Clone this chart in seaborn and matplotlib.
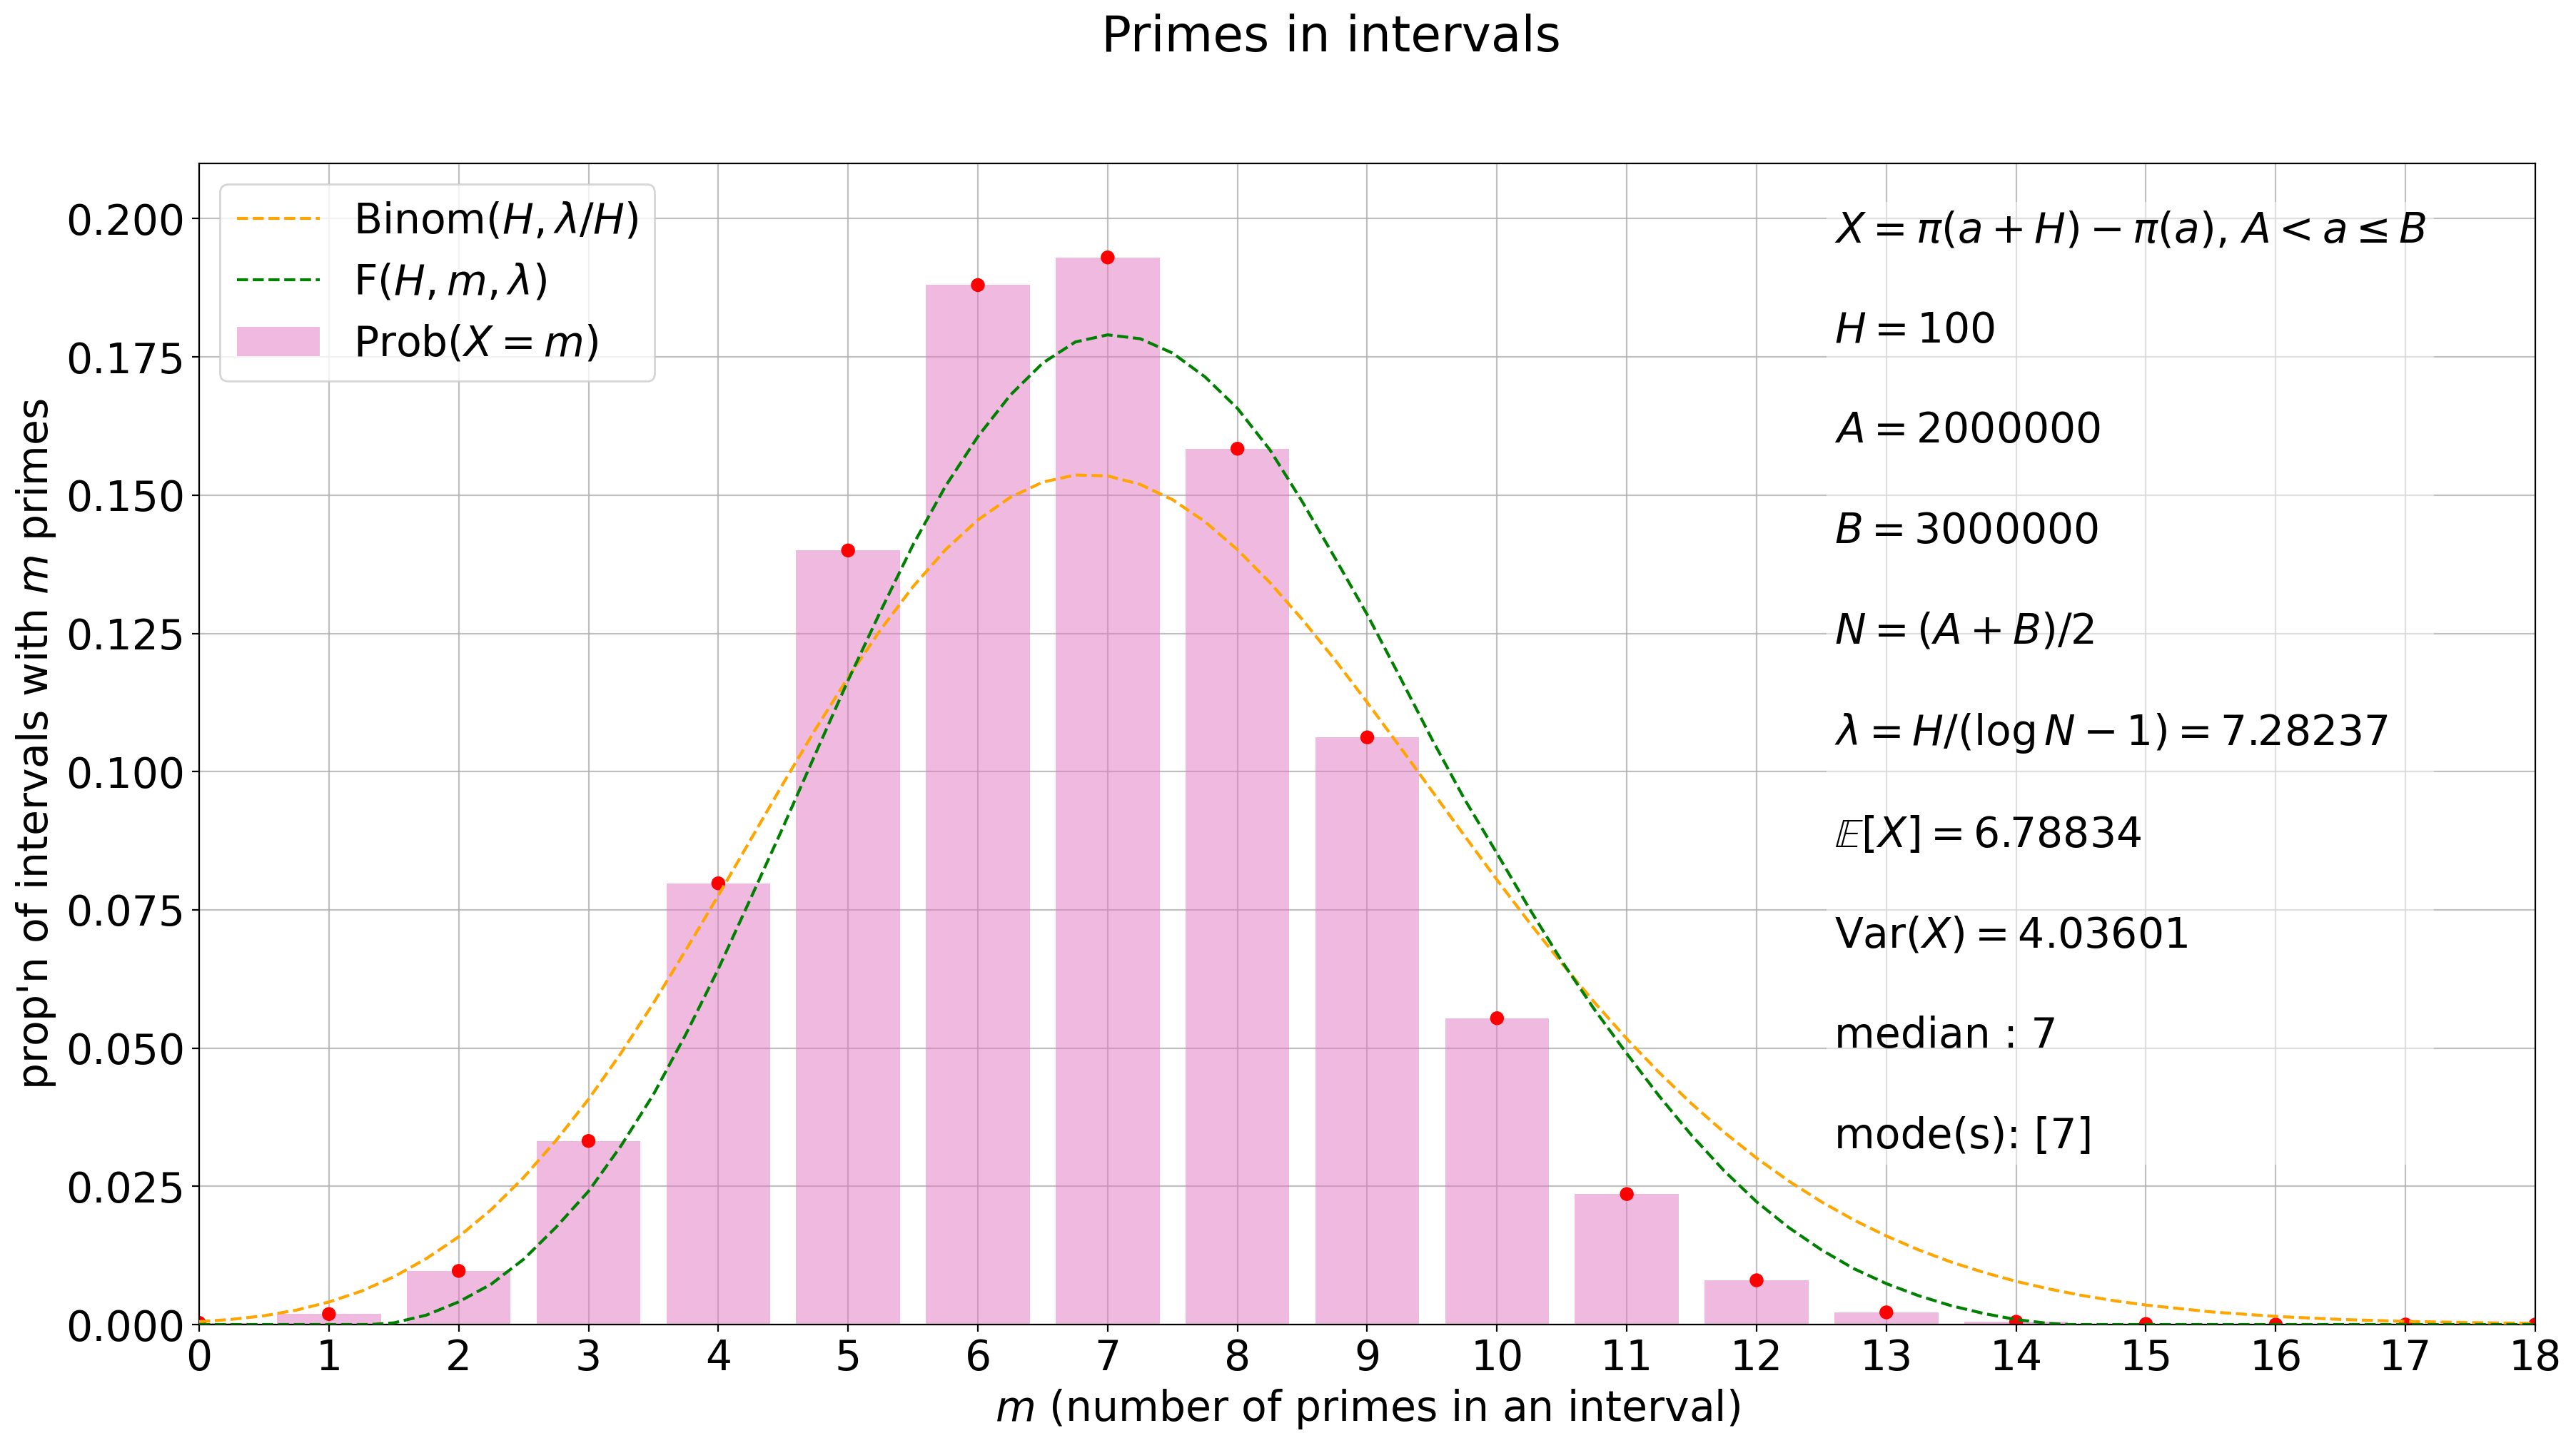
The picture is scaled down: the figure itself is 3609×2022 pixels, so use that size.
import matplotlib
matplotlib.use("Agg")
import matplotlib.pyplot as plt
import seaborn as sns
import pandas as pd

# ---------------- data ----------------
m_values = [0, 1, 2, 3, 4, 5, 6, 7, 8, 9, 10, 11, 12, 13, 14, 15, 16, 17, 18]
prob_values = [0.0003, 0.0019, 0.0097, 0.0332, 0.0798, 0.1400, 0.1880, 0.1930,
               0.1584, 0.1062, 0.0554, 0.0236, 0.0080, 0.0022, 0.0005, 0.0001,
               0.0, 0.0, 0.0]

binom_x = [0, 0.25, 0.5, 0.75, 1, 1.25, 1.5, 1.75, 2, 2.25, 2.5, 2.75, 3, 3.25,
           3.5, 3.75, 4, 4.25, 4.5, 4.75, 5, 5.25, 5.5, 5.75, 6, 6.25, 6.5, 6.75,
           7, 7.25, 7.5, 7.75, 8, 8.25, 8.5, 8.75, 9, 9.25, 9.5, 9.75, 10, 10.25,
           10.5, 10.75, 11, 11.25, 11.5, 11.75, 12, 12.25, 12.5, 12.75, 13, 13.25,
           13.5, 13.75, 14, 14.25, 14.5, 14.75, 15, 15.5, 16, 16.5, 17, 17.5, 18]
binom_y = [0.00052, 0.00093, 0.00159, 0.00261, 0.00408, 0.00604, 0.00863, 0.01192,
           0.01588, 0.02078, 0.02659, 0.03329, 0.04074, 0.04907, 0.05812, 0.06773,
           0.07759, 0.08773, 0.09786, 0.10772, 0.11701, 0.12565, 0.13344, 0.14013,
           0.14552, 0.14961, 0.15236, 0.15365, 0.15348, 0.15195, 0.14918, 0.14520,
           0.14014, 0.13419, 0.12751, 0.12025, 0.11252, 0.10454, 0.09646, 0.08838,
           0.08042, 0.07269, 0.06530, 0.05828, 0.05168, 0.04555, 0.03992, 0.03477,
           0.03011, 0.02592, 0.02219, 0.01890, 0.01601, 0.01349, 0.01129, 0.00943,
           0.00781, 0.00645, 0.00529, 0.00433, 0.00352, 0.00229, 0.00147, 0.00092,
           0.00057, 0.00035, 0.00021]

f_x = [0, 1.32, 1.5, 1.75, 2.0, 2.25, 2.5, 2.75, 3.0, 3.25, 3.5, 3.75, 4.0, 4.25,
       4.5, 4.75, 5.0, 5.25, 5.5, 5.75, 6.0, 6.25, 6.5, 6.75, 7.0, 7.25, 7.5,
       7.75, 8.0, 8.25, 8.5, 8.75, 9.0, 9.25, 9.5, 9.75, 10.0, 10.25, 10.5,
       10.75, 11.0, 11.25, 11.5, 11.75, 12.0, 12.25, 12.5, 12.75, 13.0, 13.25,
       13.5, 13.75, 14.0, 14.25, 14.4, 18]
f_y = [0, 0, 0.0003, 0.0017, 0.0041, 0.0073, 0.0118, 0.0176, 0.0241, 0.0323,
       0.0416, 0.0525, 0.0643, 0.0771, 0.0900, 0.1033, 0.1165, 0.1290, 0.1410,
       0.1516, 0.1606, 0.1681, 0.1739, 0.1777, 0.1790, 0.1783, 0.1757, 0.1714,
       0.1657, 0.1582, 0.1488, 0.1387, 0.1284, 0.1172, 0.1058, 0.0950, 0.0852,
       0.0752, 0.0657, 0.0570, 0.0490, 0.0413, 0.0342, 0.0278, 0.0222, 0.0175,
       0.0135, 0.0101, 0.0074, 0.0052, 0.0034, 0.0020, 0.0009, 0.0002, 0.0, 0.0]

H = 100
A = 2000000
B = 3000000
lam = 7.28237
mean_x = 6.78834
var_x = 4.03601
median_x = 7
modes = [7]

title = "Primes in intervals"
xlabel = r"$m$ (number of primes in an interval)"
ylabel = r"prop'n of intervals with $m$ primes"
legend_labels = [r"Binom$(H,\lambda/H)$", r"F$(H,m,\lambda)$", r"Prob$(X=m)$"]
info_lines = [
    r"$X=\pi(a+H)-\pi(a)$, $A<a\leq B$",
    r"$H=%d$" % H,
    r"$A=%d$" % A,
    r"$B=%d$" % B,
    r"$N=(A+B)/2$",
    r"$\lambda=H/(\log N-1)=%.5f$" % lam,
    r"$\mathbb{E}[X]=%.5f$" % mean_x,
    r"Var$(X)=%.5f$" % var_x,
    "median : %d" % median_x,
    "mode(s): %s" % str(modes),
]

# ---------------- plotting ----------------
plt.rcParams["font.size"] = 21
plt.rcParams["font.family"] = ["DejaVu Sans"]

fig = plt.figure(figsize=(3609 / 200, 2022 / 200), dpi=200)
ax = fig.add_axes([279 / 3609, 1 - 1856 / 2022, (3552 - 279) / 3609, (1856 - 229) / 2022])
ax.set_axisbelow(True)
ax.grid(True, color="#b0b0b0", alpha=0.8, linewidth=0.8)

df_bar = pd.DataFrame({"m": m_values, "p": prob_values})
sns.barplot(data=df_bar, x="m", y="p", native_scale=True, color="tab:pink",
            alpha=0.5, saturation=1, width=0.8, label=legend_labels[2], ax=ax,
            zorder=1)
sns.scatterplot(data=df_bar, x="m", y="p", color="red", s=49, edgecolor="none",
                zorder=2, ax=ax, legend=False)

df_b = pd.DataFrame({"x": binom_x, "y": binom_y})
df_f = pd.DataFrame({"x": f_x, "y": f_y})
sns.lineplot(data=df_b, x="x", y="y", color="orange", linestyle="--",
             linewidth=1.5, label=legend_labels[0], ax=ax, zorder=3)
sns.lineplot(data=df_f, x="x", y="y", color="green", linestyle="--",
             linewidth=1.5, label=legend_labels[1], ax=ax, zorder=3)

ax.set_xlim(0, 18)
ax.set_ylim(0, 0.21)
ax.set_xticks(m_values)
ax.set_xticklabels([str(v) for v in m_values])
yt = [0.0, 0.025, 0.05, 0.075, 0.1, 0.125, 0.15, 0.175, 0.2]
ax.set_yticks(yt)
ax.set_yticklabels(["%.3f" % v for v in yt])
ax.set_xlabel(xlabel)
ax.set_ylabel(ylabel)

handles, labels = ax.get_legend_handles_labels()
order = [labels.index(l) for l in legend_labels if l in labels]
ax.legend([handles[i] for i in order], [labels[i] for i in order], loc="upper left")

ax.text(0.700, 0.960, "\n\n".join(info_lines), transform=ax.transAxes,
        ha="left", va="top", fontsize=21, linespacing=1.295,
        bbox=dict(facecolor="white", alpha=0.5, edgecolor="none"))

fig.text(1865 / 3609, 1 - 72 / 2022, title, ha="center", va="baseline", fontsize=25)

fig.savefig("out.png", dpi=200)
